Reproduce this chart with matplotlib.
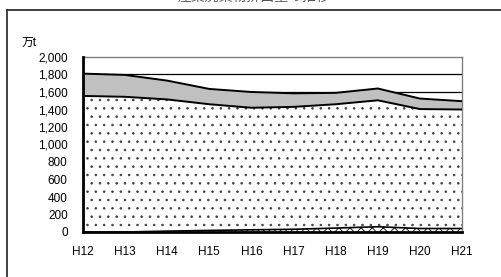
import numpy as np
import matplotlib.pyplot as plt
from matplotlib.lines import Line2D

years = ["H12", "H13", "H14", "H15", "H16", "H17", "H18", "H19", "H20", "H21"]
# stacked layers, 万t (bottom -> top)
small = [0, 0, 10, 18, 25, 31, 45, 60, 40, 40]
middle = [1555, 1545, 1505, 1442, 1395, 1399, 1415, 1445, 1365, 1360]
upper = [255, 250, 215, 175, 180, 155, 130, 135, 120, 95]
yticks = list(range(0, 2001, 200))

plt.rcParams['font.family'] = ['Liberation Sans', 'Noto Sans CJK JP', 'DejaVu Sans']
plt.rcParams['hatch.linewidth'] = 0.6

fig = plt.figure(figsize=(5.02, 2.77), dpi=100)
ax = fig.add_axes([83/502, 1-232/277, 379/502, 175/277])

x = np.arange(len(years))
l1 = np.array(small)
l2 = l1 + np.array(middle)
l3 = l2 + np.array(upper)

for y in yticks[1:-1]:
    ax.axhline(y, color='black', lw=0.9, zorder=1)

ax.fill_between(x, 0, l1, facecolor='white', edgecolor='black', hatch='xxx', lw=0, zorder=2)
ax.fill_between(x, l1, l2, facecolor='white', edgecolor='#404040', hatch='..', lw=0, zorder=2)
ax.fill_between(x, l2, l3, facecolor='#c0c0c0', lw=0, zorder=2)
ax.plot(x, l1, color='black', lw=1.2, zorder=3)
ax.plot(x, l2, color='black', lw=1.4, zorder=3)
ax.plot(x, l3, color='black', lw=1.4, zorder=3)

ax.set_xlim(0, len(years) - 1)
ax.set_ylim(0, 2000)
ax.set_xticks(x)
ax.set_xticklabels(years)
ax.set_yticks(yticks)
ax.set_yticklabels([f"{v:,}" for v in yticks])
ax.tick_params(axis='y', direction='in', length=3, pad=11, labelsize=8.5)
ax.tick_params(axis='x', direction='in', length=3, pad=10, labelsize=8.5)

for s in ['top', 'right']:
    ax.spines[s].set_color('#808080')
    ax.spines[s].set_linewidth(1)
for s in ['left', 'bottom']:
    ax.spines[s].set_color('black')
    ax.spines[s].set_linewidth(2)
    ax.spines[s].set_zorder(4)

fig.text(22/502, 1-43/277, "万t", fontsize=8.5, va='center', ha='left')
fig.text(0.505, 1+3/277, "産業廃棄物排出量の推移", fontsize=10, ha='center', va='center', color='#555555')

# outer frame (extends past the right and bottom edges)
fig.add_artist(Line2D([7/502, 7/502], [1-10/277, -0.1], color='#333333', lw=1.3))
fig.add_artist(Line2D([7/502, 1.1], [1-10/277, 1-10/277], color='#333333', lw=1.3))

fig.savefig("out.png", dpi=100)
